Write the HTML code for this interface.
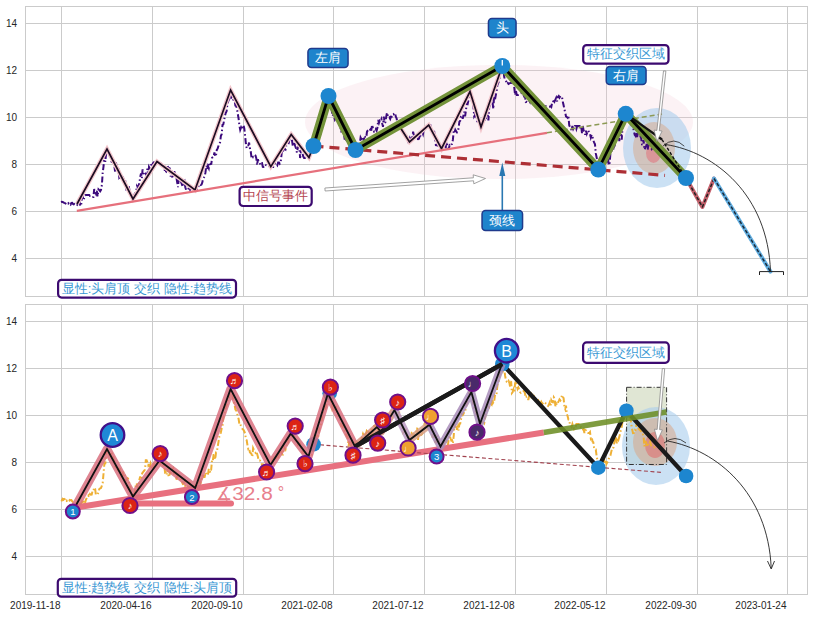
<!DOCTYPE html><html><head><meta charset="utf-8"><style>html,body{margin:0;padding:0;width:813px;height:617px;overflow:hidden;background:#fff}</style></head><body><svg width="813" height="617" viewBox="0 0 813 617" style="position:absolute;left:0;top:0">
<rect width="813" height="617" fill="#fff"/>
<defs><clipPath id="c0"><rect x="25.5" y="6.5" width="782" height="290"/></clipPath><clipPath id="c1"><rect x="25.5" y="304.5" width="782" height="290"/></clipPath></defs>
<g stroke="#cbcbcb" stroke-width="1" fill="none">
<line x1="25.5" y1="258.5" x2="807.5" y2="258.5"/>
<line x1="25.5" y1="211.5" x2="807.5" y2="211.5"/>
<line x1="25.5" y1="164.5" x2="807.5" y2="164.5"/>
<line x1="25.5" y1="117.5" x2="807.5" y2="117.5"/>
<line x1="25.5" y1="70.5" x2="807.5" y2="70.5"/>
<line x1="25.5" y1="23.5" x2="807.5" y2="23.5"/>
<line x1="61.5" y1="6.5" x2="61.5" y2="296.5"/>
<line x1="152.5" y1="6.5" x2="152.5" y2="296.5"/>
<line x1="243.5" y1="6.5" x2="243.5" y2="296.5"/>
<line x1="333.5" y1="6.5" x2="333.5" y2="296.5"/>
<line x1="424.5" y1="6.5" x2="424.5" y2="296.5"/>
<line x1="515.5" y1="6.5" x2="515.5" y2="296.5"/>
<line x1="606.5" y1="6.5" x2="606.5" y2="296.5"/>
<line x1="697.5" y1="6.5" x2="697.5" y2="296.5"/>
<line x1="787.5" y1="6.5" x2="787.5" y2="296.5"/>
<rect x="25.5" y="6.5" width="782.0" height="290.0"/>
</g>
<g font-family="Liberation Sans, sans-serif" font-size="10" fill="#262626" text-anchor="end">
<text x="17" y="261.9">4</text>
<text x="17" y="214.9">6</text>
<text x="17" y="167.9">8</text>
<text x="17" y="120.9">10</text>
<text x="17" y="73.9">12</text>
<text x="17" y="26.9">14</text>
</g>
<g stroke="#cbcbcb" stroke-width="1" fill="none">
<line x1="25.5" y1="556.5" x2="807.5" y2="556.5"/>
<line x1="25.5" y1="509.5" x2="807.5" y2="509.5"/>
<line x1="25.5" y1="462.5" x2="807.5" y2="462.5"/>
<line x1="25.5" y1="415.5" x2="807.5" y2="415.5"/>
<line x1="25.5" y1="368.5" x2="807.5" y2="368.5"/>
<line x1="25.5" y1="321.5" x2="807.5" y2="321.5"/>
<line x1="61.5" y1="304.5" x2="61.5" y2="594.5"/>
<line x1="152.5" y1="304.5" x2="152.5" y2="594.5"/>
<line x1="243.5" y1="304.5" x2="243.5" y2="594.5"/>
<line x1="333.5" y1="304.5" x2="333.5" y2="594.5"/>
<line x1="424.5" y1="304.5" x2="424.5" y2="594.5"/>
<line x1="515.5" y1="304.5" x2="515.5" y2="594.5"/>
<line x1="606.5" y1="304.5" x2="606.5" y2="594.5"/>
<line x1="697.5" y1="304.5" x2="697.5" y2="594.5"/>
<line x1="787.5" y1="304.5" x2="787.5" y2="594.5"/>
<rect x="25.5" y="304.5" width="782.0" height="290.0"/>
</g>
<g font-family="Liberation Sans, sans-serif" font-size="10" fill="#262626" text-anchor="end">
<text x="17" y="559.9">4</text>
<text x="17" y="512.9">6</text>
<text x="17" y="465.9">8</text>
<text x="17" y="418.9">10</text>
<text x="17" y="371.9">12</text>
<text x="17" y="324.9">14</text>
</g>
<g font-family="Liberation Sans, sans-serif" font-size="10" fill="#262626" text-anchor="end">
<text x="60.5" y="609">2019-11-18</text>
<text x="151.5" y="609">2020-04-16</text>
<text x="242.5" y="609">2020-09-10</text>
<text x="332.5" y="609">2021-02-08</text>
<text x="423.5" y="609">2021-07-12</text>
<text x="514.5" y="609">2021-12-08</text>
<text x="605.5" y="609">2022-05-12</text>
<text x="696.5" y="609">2022-09-30</text>
<text x="786.5" y="609">2023-01-24</text>
</g>
<g clip-path="url(#c0)">
<ellipse cx="499" cy="122" rx="194" ry="57" fill="#f3c6d0" fill-opacity="0.22"/>
<ellipse cx="657" cy="148" rx="34" ry="40" fill="#a8cdec" fill-opacity="0.6"/>
<ellipse cx="654" cy="148" rx="21" ry="26" fill="#d8a888" fill-opacity="0.5"/>
<ellipse cx="653.5" cy="153" rx="7.5" ry="10" fill="#e07880" fill-opacity="0.6"/>
<polyline points="61.0,202.0 61.8,201.7 62.6,202.0 63.4,202.4 64.2,202.9 65.0,203.1 65.8,203.6 66.6,204.0 67.4,202.8 68.2,203.5 69.0,202.4 69.8,203.7 70.6,204.5 71.4,203.0 72.2,202.9 73.0,203.9 73.8,204.4 74.6,203.9 75.4,204.7 76.2,204.6 77.0,205.0 77.8,204.0 78.6,202.4 79.4,200.8 80.2,206.0 81.1,205.7 81.9,197.9 82.7,196.5 83.5,199.9 84.3,197.7 85.1,195.2 85.9,195.1 86.8,195.0 87.6,195.0 88.4,195.0 89.2,195.0 90.0,196.0 90.8,195.9 91.7,197.0 92.5,197.0 93.4,197.0 94.2,189.0 95.1,191.7 95.9,193.6 96.8,190.9 97.6,196.6 98.5,189.4 99.3,190.2 100.2,191.3 101.0,190.0 101.9,184.8 102.7,172.6 103.6,166.0 104.4,154.9 105.3,161.8 106.1,153.7 107.0,150.0 107.8,151.4 108.6,153.4 109.4,155.0 110.2,156.8 111.1,158.1 111.9,163.9 112.7,158.7 113.5,160.9 114.3,165.5 115.1,171.5 115.9,162.5 116.8,167.0 117.6,169.7 118.4,169.4 119.2,176.8 120.0,175.2 120.8,180.0 121.6,180.1 122.4,179.4 123.2,178.2 124.1,181.1 124.9,179.2 125.7,183.3 126.5,190.2 127.3,191.3 128.1,186.8 128.9,187.0 129.8,192.0 130.6,193.8 131.4,196.6 132.2,196.8 133.0,198.0 133.8,196.1 134.6,194.1 135.4,192.8 136.2,191.3 137.0,186.1 137.8,187.4 138.6,186.3 139.4,182.9 140.2,176.9 141.0,173.4 141.8,178.2 142.6,169.3 143.4,174.4 144.2,173.5 145.0,172.6 145.8,173.9 146.6,175.4 147.4,168.7 148.2,177.1 149.0,167.0 149.8,168.5 150.6,165.2 151.4,165.0 152.2,166.1 153.0,163.2 153.8,162.4 154.6,164.2 155.4,162.8 156.2,163.8 157.0,163.0 157.8,162.3 158.6,163.2 159.4,164.2 160.2,164.1 161.0,163.8 161.9,164.8 162.7,166.5 163.5,166.4 164.3,167.1 165.1,172.7 165.9,172.2 166.7,165.9 167.5,165.2 168.3,168.3 169.1,167.1 169.9,169.3 170.7,176.7 171.6,170.8 172.4,178.5 173.2,175.3 174.0,174.7 174.8,172.0 175.6,172.0 176.4,177.7 177.2,182.4 178.0,187.2 178.8,178.3 179.6,176.3 180.4,180.5 181.3,182.6 182.1,185.0 182.9,184.7 183.7,181.7 184.5,180.9 185.3,187.2 186.1,190.0 186.9,190.0 187.7,190.0 188.5,188.4 189.3,185.7 190.1,189.3 191.0,186.4 191.8,188.9 192.6,190.0 193.4,188.7 194.2,190.0 195.0,189.0 195.8,190.0 196.6,190.0 197.4,187.2 198.2,187.3 199.0,185.1 199.9,184.1 200.7,185.0 201.5,184.5 202.3,182.4 203.1,178.5 203.9,177.5 204.7,176.5 205.5,172.2 206.3,165.6 207.1,169.1 207.9,166.0 208.8,168.2 209.6,162.3 210.4,162.7 211.2,164.7 212.0,158.0 212.8,157.1 213.6,156.8 214.4,152.5 215.2,156.5 216.0,155.4 216.8,149.9 217.7,148.4 218.5,145.8 219.3,143.8 220.1,142.2 220.9,135.7 221.7,134.1 222.5,124.8 223.3,124.4 224.1,120.4 224.9,116.0 225.7,112.9 226.6,111.3 227.4,104.2 228.2,101.3 229.0,99.4 229.8,95.1 230.6,92.0 231.4,97.5 232.2,96.7 233.0,99.6 233.8,99.9 234.6,100.7 235.4,105.6 236.2,106.0 237.0,108.8 237.8,113.9 238.6,118.6 239.4,125.5 240.2,129.8 241.1,127.3 241.9,128.9 242.7,125.8 243.5,125.2 244.3,128.5 245.1,135.7 245.9,144.0 246.7,148.1 247.5,147.0 248.3,145.5 249.1,142.6 249.9,148.3 250.7,151.3 251.5,157.4 252.3,155.6 253.1,157.1 253.9,156.2 254.7,155.1 255.5,155.7 256.3,158.2 257.1,165.1 257.9,159.2 258.7,162.1 259.5,162.4 260.3,164.8 261.2,163.1 262.0,163.0 262.8,166.9 263.6,167.0 264.4,166.8 265.2,164.6 266.0,165.2 266.8,165.4 267.6,165.3 268.4,166.3 269.2,166.1 270.0,166.0 270.8,166.0 271.6,167.0 272.4,167.0 273.2,167.0 274.1,164.9 274.9,163.3 275.7,164.4 276.5,164.1 277.3,165.2 278.1,162.5 279.0,162.5 279.8,163.8 280.6,162.8 281.4,155.8 282.2,148.2 283.0,151.5 283.9,148.3 284.7,148.9 285.5,149.5 286.3,145.6 287.1,145.4 287.9,145.6 288.8,142.7 289.6,138.9 290.4,137.2 291.2,136.0 292.0,140.3 292.8,146.2 293.6,141.7 294.4,143.4 295.2,146.0 296.1,148.7 296.9,152.6 297.7,148.2 298.5,146.5 299.3,146.3 300.1,158.0 300.9,152.0 301.7,153.0 302.5,153.6 303.3,156.6 304.1,158.0 305.0,158.0 305.8,157.6 306.6,155.1 307.4,152.7 308.2,157.0 309.0,157.0 309.9,155.8 310.8,148.9 311.7,148.1 312.6,146.0 313.5,147.0 314.3,145.8 315.2,144.5 316.0,141.0 316.8,137.3 317.7,133.1 318.5,123.0 319.3,128.6 320.2,135.2 321.0,125.4 321.8,126.9 322.7,125.5 323.5,118.4 324.3,119.5 325.2,107.1 326.0,109.2 326.8,105.3 327.7,103.6 328.5,98.0 329.3,101.2 330.1,103.7 330.9,108.1 331.7,110.0 332.5,116.0 333.3,115.0 334.1,116.6 334.9,119.6 335.7,118.1 336.5,115.2 337.3,120.3 338.1,120.0 338.9,123.6 339.7,126.0 340.5,127.4 341.3,132.3 342.2,128.4 343.0,129.3 343.8,133.3 344.6,138.7 345.4,138.7 346.2,139.9 347.0,137.8 347.8,141.5 348.6,143.3 349.4,142.6 350.2,140.7 351.0,142.4 351.8,144.4 352.6,147.5 353.4,143.6 354.2,148.2 355.0,149.0 355.8,148.0 356.6,148.9 357.4,146.9 358.2,149.7 359.0,146.7 359.8,143.4 360.6,137.6 361.4,139.2 362.2,139.1 363.0,144.7 363.8,139.9 364.6,135.8 365.4,137.2 366.2,137.7 367.0,131.7 367.8,130.4 368.6,129.7 369.4,130.8 370.2,129.7 371.0,131.7 371.8,127.0 372.6,126.9 373.4,129.5 374.2,131.7 375.0,131.5 375.8,129.3 376.6,130.7 377.4,127.8 378.2,119.9 379.0,122.8 379.8,120.5 380.6,121.0 381.4,119.2 382.2,123.4 383.0,126.8 383.8,116.5 384.6,122.9 385.4,122.2 386.2,116.8 387.0,112.6 387.8,115.4 388.6,117.7 389.4,117.3 390.2,118.9 391.0,116.6 391.8,116.7 392.6,114.2 393.4,114.4 394.2,113.5 395.0,113.0 395.8,116.6 396.6,118.3 397.5,123.2 398.3,126.2 399.1,126.5 399.9,126.4 400.8,129.7 401.6,131.7 402.4,132.7 403.2,132.4 404.1,132.7 404.9,132.6 405.7,136.2 406.5,136.3 407.4,140.5 408.2,142.0 409.0,141.0 409.8,138.4 410.6,140.5 411.5,138.5 412.3,139.9 413.1,131.6 413.9,135.4 414.7,138.9 415.6,139.5 416.4,138.9 417.2,138.8 418.0,139.2 418.9,138.7 419.7,136.2 420.5,135.6 421.3,132.4 422.1,131.5 423.0,133.9 423.8,129.5 424.6,129.4 425.4,127.1 426.2,127.8 427.1,126.3 427.9,125.1 428.7,126.0 429.5,125.0 430.3,125.0 431.1,130.0 431.9,131.5 432.7,132.5 433.5,133.6 434.3,132.6 435.1,138.9 435.9,145.2 436.7,145.4 437.5,145.6 438.3,141.1 439.1,142.8 439.9,145.3 440.7,148.1 441.5,148.0 442.3,147.8 443.1,145.2 443.9,145.6 444.8,145.7 445.6,149.0 446.4,141.9 447.2,145.3 448.0,149.0 448.8,149.0 449.6,145.3 450.5,146.0 451.3,144.5 452.1,144.0 452.9,139.7 453.7,131.1 454.5,132.6 455.3,129.9 456.2,131.5 457.0,132.4 457.8,131.9 458.6,127.9 459.4,121.7 460.2,120.8 461.0,116.4 461.9,115.4 462.7,118.7 463.5,115.3 464.3,111.8 465.1,116.3 465.9,110.5 466.7,103.9 467.6,104.2 468.4,100.6 469.2,97.9 470.0,93.0 470.8,97.6 471.7,100.6 472.5,100.6 473.4,106.0 474.2,116.4 475.1,114.9 475.9,116.0 476.8,118.1 477.6,123.2 478.5,120.8 479.3,120.8 480.2,125.0 481.0,126.0 481.8,122.2 482.6,121.5 483.5,121.3 484.3,118.6 485.1,121.0 485.9,118.9 486.7,110.8 487.6,113.7 488.4,120.5 489.2,107.1 490.0,104.9 490.8,102.1 491.6,100.1 492.5,101.6 493.3,109.0 494.1,95.8 494.9,100.1 495.7,95.5 496.6,91.3 497.4,84.9 498.2,83.0 499.0,81.0 499.8,76.6 500.7,71.2 501.5,68.8 502.3,68.0 503.2,68.7 504.2,77.1 505.1,79.5 506.1,81.3 507.0,84.0 507.8,83.0 508.6,83.9 509.4,83.5 510.2,83.0 511.1,83.0 511.9,83.0 512.7,84.3 513.5,83.0 514.3,87.8 515.1,95.0 515.9,90.9 516.8,95.0 517.6,95.0 518.4,95.0 519.2,94.8 520.0,94.0 520.8,93.3 521.7,93.0 522.5,94.6 523.3,94.6 524.2,96.6 525.0,96.3 525.8,102.0 526.7,101.7 527.5,102.0 528.3,102.0 529.2,100.5 530.0,102.0 530.8,98.9 531.7,101.4 532.5,98.3 533.3,102.0 534.2,101.8 535.0,101.0 535.8,101.9 536.6,100.4 537.4,109.0 538.2,101.1 539.1,105.1 539.9,104.1 540.7,107.7 541.5,108.0 542.3,109.0 543.1,107.7 543.9,109.0 544.8,109.0 545.6,105.6 546.4,109.0 547.2,109.0 548.0,108.0 548.8,106.6 549.6,106.7 550.5,106.2 551.3,107.0 552.1,102.9 552.9,103.0 553.8,99.1 554.6,101.3 555.4,99.6 556.2,97.8 557.1,101.4 557.9,97.0 558.7,96.0 559.5,97.6 560.4,96.0 561.2,96.6 562.0,97.0 562.8,101.7 563.6,105.3 564.4,109.3 565.2,112.5 566.0,116.4 566.8,117.1 567.6,117.8 568.4,115.6 569.2,125.3 570.0,127.0 570.8,127.4 571.6,130.5 572.4,126.0 573.2,128.9 574.0,127.1 574.8,126.0 575.6,126.0 576.4,128.8 577.2,126.0 578.0,126.0 578.8,126.1 579.6,126.0 580.4,128.8 581.2,126.1 582.0,133.2 582.8,126.0 583.6,130.5 584.4,131.4 585.2,134.8 586.0,130.7 586.8,133.8 587.6,131.7 588.4,130.5 589.2,132.9 590.0,134.0 590.8,137.5 591.7,134.8 592.5,136.6 593.3,140.6 594.1,142.4 595.0,144.3 595.8,153.4 596.6,157.2 597.5,161.3 598.3,165.0 599.1,165.0 599.9,163.1 600.7,165.3 601.5,163.6 602.3,164.5 603.1,166.0 603.9,163.1 604.7,160.8 605.6,161.7 606.4,162.1 607.2,156.6 608.0,158.1 608.8,165.2 609.6,163.1 610.4,153.6 611.2,151.5 612.0,150.7 612.8,151.5 613.6,147.6 614.4,146.3 615.2,143.8 616.0,140.4 616.8,136.9 617.6,137.4 618.4,132.2 619.3,141.2 620.1,129.0 620.9,131.2 621.7,139.6 622.5,127.5 623.3,123.8 624.1,121.3 624.9,118.2 625.7,115.0 626.5,116.4 627.3,117.3 628.1,119.6 629.0,118.5 629.8,121.8 630.6,122.5 631.4,124.6 632.2,123.8 633.0,126.5 633.8,130.9 634.7,134.9 635.5,135.9 636.3,132.0 637.1,137.0 637.9,132.8 638.7,132.4 639.5,130.4 640.4,136.3 641.2,138.4 642.0,144.5 642.8,144.7 643.6,140.1 644.4,149.7 645.2,148.2 646.0,146.6 646.9,143.5 647.7,149.6 648.5,144.2 649.3,145.2 650.1,144.1 650.9,147.5 651.7,149.1 652.6,147.7 653.4,145.1 654.2,147.9 655.0,150.0" fill="none" stroke="#3c0a7c" stroke-width="2" stroke-dasharray="6,2.5,1.5,2.5"/>
<polyline points="77.0,204.0 107.0,149.0 133.0,199.0 157.0,161.6 195.0,190.0 230.6,90.0 270.8,166.6 291.2,134.5 309.0,157.6 313.5,146.0 328.5,96.0 355.0,150.0 398.0,124.0 409.5,142.0 428.7,125.0 441.5,148.6 470.0,91.5 481.0,127.0 502.3,66.0 598.3,169.5 625.7,113.8 686.0,178.0" fill="none" stroke="#f2c6cc" stroke-width="4.2" stroke-linejoin="miter"/>
<polyline points="77.0,204.0 107.0,149.0 133.0,199.0 157.0,161.6 195.0,190.0 230.6,90.0 270.8,166.6 291.2,134.5 309.0,157.6 313.5,146.0 328.5,96.0 355.0,150.0 398.0,124.0 409.5,142.0 428.7,125.0 441.5,148.6 470.0,91.5 481.0,127.0 502.3,66.0 598.3,169.5 625.7,113.8 686.0,178.0" fill="none" stroke="#1c0c22" stroke-width="1.7"/>
<line x1="76.8" y1="210.8" x2="547" y2="132.8" stroke="#e6707c" stroke-width="2.2"/>
<line x1="547" y1="132.8" x2="662" y2="114" stroke="#8d9a55" stroke-width="1.6" stroke-dasharray="5,3"/>
<line x1="313.5" y1="146" x2="665" y2="175.4" stroke="#ad2f35" stroke-width="3.2" stroke-dasharray="10,6"/>
<polyline points="313.5,146.0 328.5,96.0 355.5,150.0 502.3,66.0 598.3,169.5 625.7,113.8 686.0,178.0" fill="none" stroke="#74933a" stroke-width="9.5" stroke-linejoin="round"/>
<polyline points="313.5,146.0 328.5,96.0 355.5,150.0 502.3,66.0 598.3,169.5 625.7,113.8 686.0,178.0" fill="none" stroke="#000" stroke-width="2.8" stroke-linejoin="round"/>
<line x1="626" y1="113.8" x2="662" y2="139.5" stroke="#111" stroke-width="2.2"/>
<line x1="662" y1="139.5" x2="686" y2="178" stroke="#111" stroke-width="1.4" stroke-dasharray="3,2"/>
<polyline points="686.0,178.0 702.4,207.0 714.0,178.5" fill="none" stroke="#c4606c" stroke-width="4" stroke-linejoin="round" stroke-linecap="round"/>
<polyline points="686.0,178.0 702.4,207.0 714.0,178.5" fill="none" stroke="#222" stroke-width="1.5" stroke-dasharray="3.5,2" stroke-linejoin="round"/>
<line x1="714" y1="178.5" x2="770.5" y2="271.6" stroke="#62aee0" stroke-width="4" stroke-linecap="round"/>
<line x1="714" y1="178.5" x2="770.5" y2="271.6" stroke="#1a2a3a" stroke-width="1.5" stroke-dasharray="3.5,2"/>
<circle cx="313.5" cy="146" r="8" fill="#1d86cf"/>
<circle cx="328.5" cy="96" r="8" fill="#1d86cf"/>
<circle cx="355.5" cy="150" r="8" fill="#1d86cf"/>
<circle cx="502.3" cy="66" r="8" fill="#1d86cf"/>
<circle cx="598.3" cy="169.5" r="8" fill="#1d86cf"/>
<circle cx="625.7" cy="113.8" r="8" fill="#1d86cf"/>
<circle cx="686" cy="178" r="8" fill="#1d86cf"/>
<line x1="502.3" y1="60" x2="502.3" y2="65.5" stroke="#fff" stroke-width="1.3"/>
<path d="M 665.6 144.5 C 715 152 768 195 770.5 271.6" fill="none" stroke="#222" stroke-width="0.9"/>
<path d="M 663 146 Q 674 136 684.3 146.2" fill="none" stroke="#222" stroke-width="0.8"/>
<path d="M 759.5 275 L 759.5 271.6 L 783.5 271.6 L 783.5 275" fill="none" stroke="#222" stroke-width="1"/>
<polygon points="325.1,191.0 473.6,180.8 473.8,183.8 485.5,178.5 473.2,174.8 473.4,177.8 324.9,188.0" fill="#fff" stroke="#8a8a8a" stroke-width="0.8"/>
<polygon points="663.5,70.9 656.9,130.4 654.1,130.1 656.9,141.5 662.1,131.0 659.3,130.7 665.9,71.1" fill="#fff" stroke="#8a8a8a" stroke-width="0.8"/>
<line x1="502.3" y1="210" x2="502.3" y2="174" stroke="#2a78b2" stroke-width="1.6"/>
<polygon points="499.3,176 505.3,176 502.3,162.5" fill="#2a78b2"/>
</g>
<rect x="307.95" y="48.45" width="40.10" height="19.10" rx="3.5" fill="#1e84cc" stroke="#1f3a8c" stroke-width="1.5"/>
<text x="328.0" y="62.0" text-anchor="middle" font-family="Liberation Sans, sans-serif" font-size="13" fill="#fff">左肩</text>
<rect x="488.45" y="18.45" width="27.60" height="19.10" rx="3.5" fill="#1e84cc" stroke="#1f3a8c" stroke-width="1.5"/>
<text x="502.25" y="32.0" text-anchor="middle" font-family="Liberation Sans, sans-serif" font-size="13" fill="#fff">头</text>
<rect x="606.25" y="66.45" width="39.80" height="18.10" rx="3.5" fill="#1e84cc" stroke="#1f3a8c" stroke-width="1.5"/>
<text x="626.15" y="79.5" text-anchor="middle" font-family="Liberation Sans, sans-serif" font-size="13" fill="#fff">右肩</text>
<rect x="482.05" y="210.45" width="40.50" height="20.10" rx="3.5" fill="#1e84cc" stroke="#1f3a8c" stroke-width="1.5"/>
<text x="502.3" y="224.5" text-anchor="middle" font-family="Liberation Sans, sans-serif" font-size="13" fill="#fff">颈线</text>
<rect x="583.20" y="45.10" width="85.30" height="18.60" rx="3.5" fill="#fff" stroke="#3c0a70" stroke-width="2.2"/>
<text x="625.8499999999999" y="58.4" text-anchor="middle" font-family="Liberation Sans, sans-serif" font-size="13" fill="#3a98d4">特征交织区域</text>
<rect x="239.60" y="186.80" width="72.10" height="19.20" rx="3.5" fill="#fff" stroke="#3c0a70" stroke-width="2.2"/>
<text x="275.65" y="200.4" text-anchor="middle" font-family="Liberation Sans, sans-serif" font-size="13" fill="#b5434f">中信号事件</text>
<rect x="58.10" y="279.80" width="177.90" height="17.80" rx="3.5" fill="#fff" stroke="#3c0a70" stroke-width="2.2"/>
<text x="147.05" y="292.7" text-anchor="middle" font-family="Liberation Sans, sans-serif" font-size="13" fill="#3a98d4">显性:头肩顶 交织 隐性:趋势线</text>
<g clip-path="url(#c1)">
<rect x="626.6" y="387.3" width="40" height="77.2" fill="#dde3cf" fill-opacity="0.9"/>
<ellipse cx="656" cy="446" rx="34" ry="39" fill="#a8cdec" fill-opacity="0.6"/>
<ellipse cx="655" cy="442" rx="22" ry="24" fill="#d8a888" fill-opacity="0.55"/>
<ellipse cx="655" cy="445" rx="10" ry="13" fill="#e07070" fill-opacity="0.6"/>
<rect x="626.6" y="387.3" width="40" height="77.2" fill="none" stroke="#333" stroke-width="1" stroke-dasharray="5,2,1,2"/>
<polyline points="61.0,500.0 61.8,500.4 62.6,499.0 63.4,499.8 64.2,499.0 65.0,499.5 65.8,501.4 66.6,500.7 67.4,502.2 68.2,501.1 69.0,500.9 69.8,499.9 70.6,500.2 71.4,500.1 72.2,501.3 73.0,502.0 73.8,501.8 74.6,501.7 75.4,501.9 76.2,502.4 77.0,503.0 77.8,503.0 78.6,504.0 79.4,504.0 80.2,504.0 81.1,503.6 81.9,501.8 82.7,504.0 83.5,500.3 84.3,502.6 85.1,502.5 85.9,499.8 86.8,497.8 87.6,497.4 88.4,495.7 89.2,497.0 90.0,494.0 90.8,494.7 91.7,494.6 92.5,491.0 93.4,491.2 94.2,487.6 95.1,488.7 95.9,495.0 96.8,494.4 97.6,494.1 98.5,492.6 99.3,489.0 100.2,488.3 101.0,488.0 101.9,485.7 102.7,483.1 103.6,472.6 104.4,463.7 105.3,463.4 106.1,454.1 107.0,448.0 107.8,451.9 108.6,451.9 109.4,455.2 110.2,454.3 111.1,454.6 111.9,453.9 112.7,459.4 113.5,458.1 114.3,462.0 115.1,466.3 115.9,467.1 116.8,466.9 117.6,470.7 118.4,467.7 119.2,471.5 120.0,468.0 120.8,474.8 121.6,477.8 122.4,478.0 123.2,471.7 124.1,474.6 124.9,475.5 125.7,479.6 126.5,480.2 127.3,478.1 128.1,478.7 128.9,482.1 129.8,484.2 130.6,489.1 131.4,492.8 132.2,495.8 133.0,496.0 133.8,495.9 134.6,491.9 135.4,487.4 136.2,483.3 137.0,484.6 137.8,487.8 138.6,485.4 139.4,479.6 140.2,476.5 141.0,479.8 141.8,474.4 142.6,472.5 143.4,471.7 144.2,470.7 145.0,469.4 145.8,460.2 146.6,460.2 147.4,462.3 148.2,465.1 149.0,463.4 149.8,467.1 150.6,463.6 151.4,466.3 152.2,469.4 153.0,467.1 153.8,464.5 154.6,462.6 155.4,463.6 156.2,460.4 157.0,461.0 157.8,461.9 158.6,462.0 159.4,461.7 160.2,463.9 161.0,465.4 161.9,464.4 162.7,465.3 163.5,465.9 164.3,466.2 165.1,472.7 165.9,472.4 166.7,474.9 167.5,468.4 168.3,474.8 169.1,477.1 169.9,472.1 170.7,473.0 171.6,471.8 172.4,469.9 173.2,468.6 174.0,473.0 174.8,472.1 175.6,472.9 176.4,480.5 177.2,476.0 178.0,476.8 178.8,478.3 179.6,478.2 180.4,479.4 181.3,482.7 182.1,482.3 182.9,484.1 183.7,483.8 184.5,482.1 185.3,486.1 186.1,485.8 186.9,488.0 187.7,486.7 188.5,488.0 189.3,487.1 190.1,481.9 191.0,485.1 191.8,486.0 192.6,486.7 193.4,487.4 194.2,486.0 195.0,487.0 195.8,484.7 196.6,482.9 197.4,483.0 198.2,483.3 199.0,482.4 199.9,481.0 200.7,482.8 201.5,480.6 202.3,475.6 203.1,475.7 203.9,477.1 204.7,476.9 205.5,472.4 206.3,473.9 207.1,475.2 207.9,475.1 208.8,468.8 209.6,471.0 210.4,472.8 211.2,469.4 212.0,460.2 212.8,461.1 213.6,455.0 214.4,454.9 215.2,459.5 216.0,452.3 216.8,452.0 217.7,446.8 218.5,441.8 219.3,436.8 220.1,435.4 220.9,432.2 221.7,428.3 222.5,426.2 223.3,418.1 224.1,413.8 224.9,412.5 225.7,408.9 226.6,405.1 227.4,404.1 228.2,397.9 229.0,397.6 229.8,393.8 230.6,390.0 231.4,393.9 232.2,394.2 233.0,399.1 233.8,402.4 234.6,404.9 235.4,409.5 236.2,410.5 237.0,412.7 237.8,416.6 238.6,418.8 239.4,424.3 240.2,423.7 241.1,426.4 241.9,427.9 242.7,429.2 243.5,429.8 244.3,431.5 245.1,433.4 245.9,439.3 246.7,440.2 247.5,445.4 248.3,448.8 249.1,448.1 249.9,452.4 250.7,453.0 251.5,453.9 252.3,456.8 253.1,448.1 253.9,449.9 254.7,451.8 255.5,452.8 256.3,451.4 257.1,453.8 257.9,456.7 258.7,460.5 259.5,460.4 260.3,460.8 261.2,461.6 262.0,465.0 262.8,465.0 263.6,464.4 264.4,465.0 265.2,464.8 266.0,465.0 266.8,465.0 267.6,465.0 268.4,465.0 269.2,465.0 270.0,463.4 270.8,464.0 271.6,462.6 272.4,459.9 273.2,461.5 274.1,458.3 274.9,459.8 275.7,460.2 276.5,453.2 277.3,456.1 278.1,458.7 279.0,452.2 279.8,450.9 280.6,454.1 281.4,451.1 282.2,454.5 283.0,454.5 283.9,446.6 284.7,448.3 285.5,449.5 286.3,446.0 287.1,443.7 287.9,444.4 288.8,438.2 289.6,436.6 290.4,435.9 291.2,434.0 292.0,436.1 292.8,435.6 293.6,434.7 294.4,437.6 295.2,438.3 296.1,440.0 296.9,441.6 297.7,444.2 298.5,442.6 299.3,444.4 300.1,443.9 300.9,447.7 301.7,447.7 302.5,453.3 303.3,450.0 304.1,456.0 305.0,456.0 305.8,456.0 306.6,456.0 307.4,456.0 308.2,455.7 309.0,455.0 309.9,456.0 310.8,456.0 311.7,456.0 312.6,446.8 313.5,445.0 314.3,444.9 315.2,442.6 316.0,439.5 316.8,435.9 317.7,433.9 318.5,436.5 319.3,429.7 320.2,426.1 321.0,424.4 321.8,420.6 322.7,412.8 323.5,412.2 324.3,411.5 325.2,409.3 326.0,405.8 326.8,401.0 327.7,401.1 328.5,396.0 329.3,398.6 330.1,401.6 330.9,401.7 331.7,401.2 332.5,409.1 333.3,407.9 334.1,410.8 334.9,410.3 335.7,406.0 336.5,411.4 337.3,414.6 338.1,415.5 338.9,413.3 339.7,418.9 340.5,420.9 341.3,425.6 342.2,425.8 343.0,427.4 343.8,428.6 344.6,431.4 345.4,431.6 346.2,435.4 347.0,436.3 347.8,438.0 348.6,446.4 349.4,440.2 350.2,445.4 351.0,446.1 351.8,441.9 352.6,443.1 353.4,443.2 354.2,446.4 355.0,447.0 355.8,446.9 356.6,447.0 357.4,444.3 358.2,442.5 359.0,442.7 359.8,445.4 360.6,441.2 361.4,439.5 362.2,436.9 363.0,434.1 363.8,436.1 364.6,436.3 365.4,434.6 366.2,432.8 367.0,430.1 367.8,429.9 368.6,432.1 369.4,430.5 370.2,432.9 371.0,435.4 371.8,427.6 372.6,431.9 373.4,430.1 374.2,423.9 375.0,426.6 375.8,427.1 376.6,422.9 377.4,427.9 378.2,429.8 379.0,426.7 379.8,424.1 380.6,425.6 381.4,418.8 382.2,422.7 383.0,416.5 383.8,415.1 384.6,411.4 385.4,418.0 386.2,416.6 387.0,411.7 387.8,414.4 388.6,415.6 389.4,418.2 390.2,414.6 391.0,412.5 391.8,415.1 392.6,413.0 393.4,412.1 394.2,410.0 395.0,411.0 395.8,414.2 396.6,417.0 397.5,416.1 398.3,415.3 399.1,411.7 399.9,415.4 400.8,420.7 401.6,425.5 402.4,428.7 403.2,432.8 404.1,431.9 404.9,431.3 405.7,427.7 406.5,434.1 407.4,436.9 408.2,437.4 409.0,439.0 409.8,437.2 410.6,435.8 411.5,433.5 412.3,434.8 413.1,433.7 413.9,434.2 414.7,435.0 415.6,433.2 416.4,429.7 417.2,427.8 418.0,440.0 418.9,431.0 419.7,435.0 420.5,435.0 421.3,434.9 422.1,434.0 423.0,430.7 423.8,428.8 424.6,423.6 425.4,423.0 426.2,424.9 427.1,424.5 427.9,423.0 428.7,424.0 429.5,423.0 430.3,425.8 431.1,424.1 431.9,430.2 432.7,437.6 433.5,434.8 434.3,435.6 435.1,441.6 435.9,442.5 436.7,440.5 437.5,435.6 438.3,438.1 439.1,441.4 439.9,446.1 440.7,446.9 441.5,446.0 442.3,445.6 443.1,447.0 443.9,442.4 444.8,441.6 445.6,443.1 446.4,441.2 447.2,442.7 448.0,444.8 448.8,437.9 449.6,435.4 450.5,438.3 451.3,440.5 452.1,440.3 452.9,443.5 453.7,436.0 454.5,424.1 455.3,428.8 456.2,425.2 457.0,429.8 457.8,427.0 458.6,430.4 459.4,423.6 460.2,423.5 461.0,419.5 461.9,414.3 462.7,415.1 463.5,413.9 464.3,411.7 465.1,411.8 465.9,407.3 466.7,404.3 467.6,399.3 468.4,396.2 469.2,392.2 470.0,391.0 470.8,393.7 471.7,393.8 472.5,397.0 473.4,406.2 474.2,407.9 475.1,408.6 475.9,412.8 476.8,415.0 477.6,415.7 478.5,418.1 479.3,420.5 480.2,421.8 481.0,424.0 481.8,423.1 482.6,420.4 483.5,421.1 484.3,422.7 485.1,418.1 485.9,412.1 486.7,411.9 487.6,402.9 488.4,405.8 489.2,407.0 490.0,404.9 490.8,404.1 491.6,404.8 492.5,399.5 493.3,402.9 494.1,402.1 494.9,395.7 495.7,396.3 496.6,393.3 497.4,385.6 498.2,382.7 499.0,379.1 499.8,372.0 500.7,372.7 501.5,370.5 502.3,366.0 503.2,370.5 504.2,368.4 505.1,375.7 506.1,381.0 507.0,382.0 507.8,382.6 508.6,381.0 509.4,382.8 510.2,387.4 511.1,381.0 511.9,393.0 512.7,392.0 513.5,389.6 514.3,392.7 515.1,383.4 515.9,381.0 516.8,385.8 517.6,388.9 518.4,387.4 519.2,389.6 520.0,392.0 520.8,392.7 521.7,391.6 522.5,391.0 523.3,391.0 524.2,391.5 525.0,393.5 525.8,397.8 526.7,396.6 527.5,396.6 528.3,400.0 529.2,395.7 530.0,394.1 530.8,393.5 531.7,398.4 532.5,393.2 533.3,394.7 534.2,396.8 535.0,399.0 535.8,400.0 536.6,400.2 537.4,401.1 538.2,400.5 539.1,404.1 539.9,402.6 540.7,404.8 541.5,402.3 542.3,404.1 543.1,402.8 543.9,401.9 544.8,402.4 545.6,403.2 546.4,403.9 547.2,405.7 548.0,406.0 548.8,404.8 549.6,402.8 550.5,406.2 551.3,400.4 552.1,402.2 552.9,402.3 553.8,397.3 554.6,398.7 555.4,406.2 556.2,403.4 557.1,404.9 557.9,402.7 558.7,401.1 559.5,399.4 560.4,400.4 561.2,398.6 562.0,395.0 562.8,396.9 563.6,398.2 564.4,406.3 565.2,408.8 566.0,405.5 566.8,414.0 567.6,416.1 568.4,419.5 569.2,419.9 570.0,425.0 570.8,425.8 571.6,427.2 572.4,424.0 573.2,426.4 574.0,428.7 574.8,427.1 575.6,426.7 576.4,424.0 577.2,424.0 578.0,424.0 578.8,424.0 579.6,424.0 580.4,426.5 581.2,427.6 582.0,427.4 582.8,429.2 583.6,428.8 584.4,433.0 585.2,430.0 586.0,430.4 586.8,432.5 587.6,432.9 588.4,433.0 589.2,433.0 590.0,432.0 590.8,438.4 591.7,437.0 592.5,441.5 593.3,442.3 594.1,447.8 595.0,449.6 595.8,449.6 596.6,455.8 597.5,460.8 598.3,463.0 599.1,463.3 599.9,464.0 600.7,464.0 601.5,464.0 602.3,461.7 603.1,462.2 603.9,457.3 604.7,464.0 605.6,460.0 606.4,464.0 607.2,462.5 608.0,461.2 608.8,458.7 609.6,456.6 610.4,455.6 611.2,452.1 612.0,448.8 612.8,448.9 613.6,447.0 614.4,441.8 615.2,434.8 616.0,437.1 616.8,443.3 617.6,438.3 618.4,439.8 619.3,436.9 620.1,433.5 620.9,429.6 621.7,426.8 622.5,421.5 623.3,419.3 624.1,419.1 624.9,414.9 625.7,413.0 626.5,414.4 627.3,415.4 628.1,413.2 629.0,416.6 629.8,417.6 630.6,419.0 631.4,425.3 632.2,429.5 633.0,433.1 633.8,433.0 634.7,429.8 635.5,430.0 636.3,425.7 637.1,421.3 637.9,422.1 638.7,428.5 639.5,429.6 640.4,429.3 641.2,433.2 642.0,433.7 642.8,434.3 643.6,437.1 644.4,446.3 645.2,441.5 646.0,442.1 646.9,446.2 647.7,444.1 648.5,445.4 649.3,443.9 650.1,441.9 650.9,444.9 651.7,446.3 652.6,446.4 653.4,447.3 654.2,447.2 655.0,448.0" fill="none" stroke="#eeb035" stroke-width="2" stroke-dasharray="6,2.5,1.5,2.5"/>
<line x1="76" y1="507.5" x2="543.7" y2="432.5" stroke="#e8707f" stroke-width="6"/>
<line x1="135" y1="503.6" x2="231" y2="503.6" stroke="#e8707f" stroke-width="6" stroke-linecap="round"/>
<g fill="#e8808c" font-family="Liberation Sans, sans-serif">
<text x="215.5" y="499.6" font-size="18">∡</text>
<text transform="translate(232.2,499.6) scale(1.12,1)" x="0" y="0" font-size="18.6">32.8</text>
<text x="277.8" y="498" font-size="16">°</text>
</g>
<line x1="313.5" y1="444.3" x2="662.6" y2="472.5" stroke="#a0404c" stroke-width="1.1" stroke-dasharray="4,2.5"/>
<polyline points="355,446.5 502.3,364 598.3,467.7 626.4,410.7 686.1,476" fill="none" stroke="#1a1a1a" stroke-width="4.3"/>
<circle cx="313.6" cy="444.3" r="7.3" fill="#1d86cf"/>
<circle cx="329.7" cy="393.2" r="7.3" fill="#1d86cf"/>
<circle cx="502.3" cy="364" r="7.3" fill="#1d86cf"/>
<circle cx="598.3" cy="467.7" r="7.3" fill="#1d86cf"/>
<circle cx="626.4" cy="410.7" r="7.3" fill="#1d86cf"/>
<circle cx="686.1" cy="476" r="7.3" fill="#1d86cf"/>
<line x1="543.7" y1="432.5" x2="666.5" y2="412" stroke="#6d8e25" stroke-width="5.5" stroke-opacity="0.88"/>
<polyline points="75.0,507.0 107.0,449.0 133.0,496.5 159.5,460.5 195.2,488.0 230.6,389.0 270.5,465.0 290.8,433.4 308.4,456.5 327.9,393.7 355.0,446.5" fill="none" stroke="#d9707f" stroke-opacity="0.85" stroke-width="8.5" stroke-linejoin="round"/>
<polyline points="355.0,446.5 377.0,427.0 381.0,432.0 394.5,410.0" fill="none" stroke="#d88878" stroke-opacity="0.8" stroke-width="7.5" stroke-linejoin="round"/>
<polyline points="394.5,410.0 409.4,440.0" fill="none" stroke="#b898c0" stroke-opacity="0.85" stroke-width="7.5" stroke-linejoin="round"/>
<polyline points="409.4,440.0 429.4,424.7" fill="none" stroke="#d8a088" stroke-opacity="0.85" stroke-width="7.5" stroke-linejoin="round"/>
<polyline points="429.4,424.7 440.5,446.5 471.4,392.0 480.0,423.7 502.0,364.0" fill="none" stroke="#a88cb8" stroke-opacity="0.85" stroke-width="7.5" stroke-linejoin="round"/>
<polyline points="75.0,507.0 107.0,449.0 133.0,496.5 159.5,460.5 195.2,488.0 230.6,389.0 270.5,465.0 290.8,433.4 308.4,456.5 327.9,393.7 355.0,446.5 377.0,427.0 381.0,432.0 394.5,410.0 409.4,440.0 429.4,424.7 440.5,446.5 471.4,392.0 480.0,423.7 502.0,364.0" fill="none" stroke="#111" stroke-width="1.8"/>
<line x1="355" y1="446.5" x2="502.3" y2="364" stroke="#1a1a1a" stroke-width="4.3"/>
<circle cx="72.8" cy="511.6" r="7" fill="#1d86cf" stroke="#70108a" stroke-width="2"/>
<text x="72.8" y="515.1" text-anchor="middle" font-family="Liberation Sans, sans-serif" font-size="9.5" fill="#fff">1</text>
<circle cx="191.9" cy="497" r="7" fill="#1d86cf" stroke="#70108a" stroke-width="2"/>
<text x="191.9" y="500.5" text-anchor="middle" font-family="Liberation Sans, sans-serif" font-size="9.5" fill="#fff">2</text>
<circle cx="436.6" cy="456.5" r="7" fill="#1d86cf" stroke="#70108a" stroke-width="2"/>
<text x="436.6" y="460.0" text-anchor="middle" font-family="Liberation Sans, sans-serif" font-size="9.5" fill="#fff">3</text>
<circle cx="130" cy="505.5" r="7.6" fill="#dc2414" stroke="#70108a" stroke-width="2"/>
<text x="130" y="509.0" text-anchor="middle" font-family="Liberation Sans, sans-serif" font-size="9.5" fill="#fff">♪</text>
<circle cx="160.2" cy="453.7" r="7.6" fill="#dc2414" stroke="#70108a" stroke-width="2"/>
<text x="160.2" y="457.2" text-anchor="middle" font-family="Liberation Sans, sans-serif" font-size="9.5" fill="#fff">♪</text>
<circle cx="234.5" cy="380.7" r="7.6" fill="#dc2414" stroke="#70108a" stroke-width="2"/>
<text x="234.5" y="384.2" text-anchor="middle" font-family="Liberation Sans, sans-serif" font-size="9.5" fill="#fff">♬</text>
<circle cx="266.6" cy="472" r="7.6" fill="#dc2414" stroke="#70108a" stroke-width="2"/>
<text x="266.6" y="475.5" text-anchor="middle" font-family="Liberation Sans, sans-serif" font-size="9.5" fill="#fff">♬</text>
<circle cx="295.2" cy="426.1" r="7.6" fill="#dc2414" stroke="#70108a" stroke-width="2"/>
<text x="295.2" y="429.6" text-anchor="middle" font-family="Liberation Sans, sans-serif" font-size="9.5" fill="#fff">♬</text>
<circle cx="305" cy="463.7" r="7.6" fill="#dc2414" stroke="#70108a" stroke-width="2"/>
<text x="305" y="467.2" text-anchor="middle" font-family="Liberation Sans, sans-serif" font-size="9.5" fill="#fff">♭</text>
<circle cx="330.4" cy="387.2" r="7.6" fill="#dc2414" stroke="#70108a" stroke-width="2"/>
<text x="330.4" y="390.7" text-anchor="middle" font-family="Liberation Sans, sans-serif" font-size="9.5" fill="#fff">♭</text>
<circle cx="353" cy="455.2" r="7.6" fill="#dc2414" stroke="#70108a" stroke-width="2"/>
<text x="353" y="458.7" text-anchor="middle" font-family="Liberation Sans, sans-serif" font-size="9.5" fill="#fff">♯</text>
<circle cx="377.7" cy="443.1" r="7.6" fill="#dc2414" stroke="#70108a" stroke-width="2"/>
<text x="377.7" y="446.6" text-anchor="middle" font-family="Liberation Sans, sans-serif" font-size="9.5" fill="#fff">♪</text>
<circle cx="382.6" cy="420" r="7.6" fill="#dc2414" stroke="#70108a" stroke-width="2"/>
<text x="382.6" y="423.5" text-anchor="middle" font-family="Liberation Sans, sans-serif" font-size="9.5" fill="#fff">♯</text>
<circle cx="397.7" cy="402" r="7.6" fill="#dc2414" stroke="#70108a" stroke-width="2"/>
<text x="397.7" y="405.5" text-anchor="middle" font-family="Liberation Sans, sans-serif" font-size="9.5" fill="#fff">♪</text>
<circle cx="408.1" cy="448" r="7.6" fill="#f0a030" stroke="#70108a" stroke-width="2"/>
<text x="408.1" y="451.5" text-anchor="middle" font-family="Liberation Sans, sans-serif" font-size="9.5" fill="#fff">♩</text>
<circle cx="430.5" cy="416.4" r="7.6" fill="#f0a030" stroke="#70108a" stroke-width="2"/>
<text x="430.5" y="419.9" text-anchor="middle" font-family="Liberation Sans, sans-serif" font-size="9.5" fill="#fff">♩</text>
<circle cx="472.6" cy="383.5" r="7.6" fill="#4a2a6a" stroke="#70108a" stroke-width="2"/>
<text x="472.6" y="387.0" text-anchor="middle" font-family="Liberation Sans, sans-serif" font-size="9.5" fill="#fff">♩</text>
<circle cx="477" cy="432.2" r="7.6" fill="#4a2a6a" stroke="#70108a" stroke-width="2"/>
<text x="477" y="435.7" text-anchor="middle" font-family="Liberation Sans, sans-serif" font-size="9.5" fill="#fff">♪</text>
<circle cx="112.5" cy="435" r="11.8" fill="#1f88d6" stroke="#40108a" stroke-width="2.3"/>
<text x="112.5" y="440.8" text-anchor="middle" font-family="Liberation Sans, sans-serif" font-size="16" fill="#fff">A</text>
<circle cx="506.7" cy="350.7" r="11.8" fill="#1f88d6" stroke="#40108a" stroke-width="2.3"/>
<text x="506.7" y="356.5" text-anchor="middle" font-family="Liberation Sans, sans-serif" font-size="16" fill="#fff">B</text>
<path d="M 667.5 441 C 717 450 768 493 771.2 568" fill="none" stroke="#222" stroke-width="0.9"/>
<path d="M 664 443 Q 675 434 686 443" fill="none" stroke="#222" stroke-width="0.8"/>
<path d="M 767.5 561 L 771.2 569 L 774.5 561" fill="none" stroke="#222" stroke-width="0.9"/>
<polygon points="662.3,368.5 657.2,429.4 654.4,429.2 657.5,440.5 662.4,429.9 659.6,429.6 664.7,368.7" fill="#fff" stroke="#8a8a8a" stroke-width="0.8"/>
</g>
<rect x="583.10" y="342.40" width="85.70" height="20.40" rx="3.5" fill="#fff" stroke="#3c0a70" stroke-width="2.2"/>
<text x="625.95" y="356.6" text-anchor="middle" font-family="Liberation Sans, sans-serif" font-size="13" fill="#3a98d4">特征交织区域</text>
<rect x="57.80" y="578.80" width="178.40" height="17.90" rx="3.5" fill="#fff" stroke="#3c0a70" stroke-width="2.2"/>
<text x="147.0" y="591.75" text-anchor="middle" font-family="Liberation Sans, sans-serif" font-size="13" fill="#3a98d4">显性:趋势线 交织 隐性:头肩顶</text>
</svg></body></html>
